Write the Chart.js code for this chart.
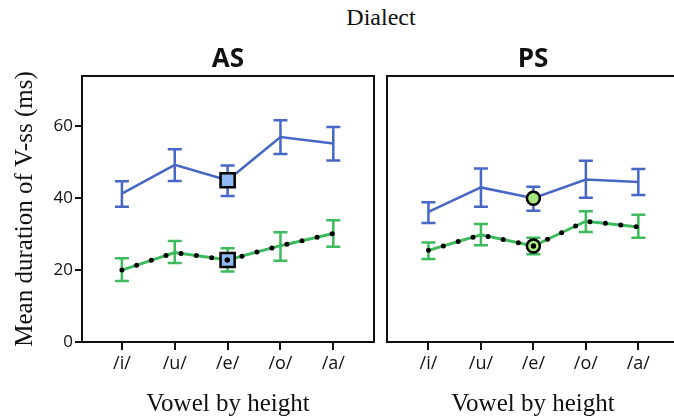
<!DOCTYPE html>
<html>
<head>
<meta charset="utf-8">
<script src="https://cdn.jsdelivr.net/npm/chart.js@4/dist/chart.umd.min.js"></script>
<style>
  html, body { margin: 0; padding: 0; background: #fff; }
  body { width: 674px; height: 420px; overflow: hidden; position: relative; }
  canvas { position: absolute; top: 0; }
  #asChart { left: 0; }
  #psChart { left: 380px; }
  #dialect {
    position: absolute; top: 4px; left: 281px; width: 200px; text-align: center;
    font-family: "Liberation Serif", "DejaVu Serif", serif; font-size: 24px; color: #111;
  }
</style>
</head>
<body>
<div id="dialect">Dialect</div>
<canvas id="asChart" width="380" height="420"></canvas>
<canvas id="psChart" width="330" height="420"></canvas>
<script>
// vowels on the x axis
const vowels = ['/i/', '/u/', '/e/', '/o/', '/a/'];
const yTicks = [0, 20, 40, 60];

// AS panel
const asBlue = [41.3, 49.3, 45.0, 57.0, 55.2];
const asBlueLow = [37.6, 44.8, 40.6, 52.3, 50.5];
const asBlueHigh = [44.7, 53.6, 49.1, 61.7, 59.8];
const asGreen = [20.0, 24.9, 22.8, 26.8, 30.2];
const asGreenLow = [17.0, 22.0, 19.6, 22.6, 26.5];
const asGreenHigh = [23.3, 28.1, 26.1, 30.5, 33.9];

// PS panel
const psBlue = [36.2, 43.0, 40.0, 45.2, 44.5];
const psBlueLow = [33.1, 37.6, 36.5, 40.1, 40.9];
const psBlueHigh = [38.9, 48.3, 43.2, 50.4, 48.1];
const psGreen = [25.5, 29.8, 26.7, 33.6, 32.0];
const psGreenLow = [23.1, 26.9, 24.4, 30.6, 29.0];
const psGreenHigh = [27.7, 32.8, 29.0, 36.4, 35.4];

const BLUE = '#4767c6';
const GREEN = '#3dba5c';
const sansFont = '"Open Sans", "Noto Sans", sans-serif';
const serifFont = '"Liberation Serif", "DejaVu Serif", serif';

const toPoints = (vals) => vals.map((v, i) => ({ x: i, y: v }));

// error bars, drawn under the lines
const errorBars = {
  id: 'errorBars',
  beforeDatasetsDraw(chart) {
    const ctx = chart.ctx;
    const xs = chart.scales.x, ys = chart.scales.y;
    chart.data.datasets.forEach(ds => {
      if (!ds.errLow) return;
      ctx.save();
      ctx.strokeStyle = ds.borderColor;
      ctx.lineWidth = 2.5;
      ds.errLow.forEach((lo, i) => {
        const x = xs.getPixelForValue(i);
        const y1 = ys.getPixelForValue(lo);
        const y2 = ys.getPixelForValue(ds.errHigh[i]);
        ctx.beginPath();
        ctx.moveTo(x, y1); ctx.lineTo(x, y2);
        ctx.moveTo(x - 7, y1); ctx.lineTo(x + 7, y1);
        ctx.moveTo(x - 7, y2); ctx.lineTo(x + 7, y2);
        ctx.stroke();
      });
      ctx.restore();
    });
  }
};

// frame round the plot area, panel name and x title centred on the panel
const frame = {
  id: 'frame',
  afterDraw(chart, args, opts) {
    const { left, top, right, bottom } = chart.chartArea;
    const ctx = chart.ctx;
    ctx.save();
    ctx.strokeStyle = '#111';
    ctx.lineWidth = 2;
    ctx.strokeRect(left, top, right - left, bottom - top);
    ctx.fillStyle = '#111';
    ctx.textAlign = 'center';
    ctx.textBaseline = 'middle';
    ctx.font = 'bold 26px ' + sansFont;
    ctx.fillText(opts.text, opts.titleX, 60);
    ctx.font = '25px ' + serifFont;
    ctx.fillText('Vowel by height', opts.titleX, 404);
    ctx.restore();
  }
};

function makePanel(id, title, blue, blueLow, blueHigh, green, greenLow, greenHigh, marker, fill, xMin, xMax, titleX, pad, showY) {
  const markerRadius = marker === 'rect' ? 10 : 6.5;
  const marked = vowels.map((v, i) => i === 2 ? markerRadius : 0);
  return new Chart(document.getElementById(id), {
    type: 'line',
    data: {
      datasets: [
        {
          data: toPoints(green), borderColor: 'rgba(0,0,0,0)', borderWidth: 0,
          pointRadius: vowels.map((v, i) => i === 2 ? 2.5 : 0),
          pointBackgroundColor: '#000', pointBorderWidth: 0, order: 0
        },
        {
          data: toPoints(green), borderColor: '#000', borderWidth: 5,
          borderDash: [0, 15.5], borderCapStyle: 'round',
          pointRadius: 0, order: 1
        },
        {
          data: toPoints(green), errLow: greenLow, errHigh: greenHigh,
          borderColor: GREEN, borderWidth: 3,
          pointStyle: marker, pointRadius: marked,
          pointBackgroundColor: fill, pointBorderColor: '#000', pointBorderWidth: 2.5, order: 2
        },
        {
          data: toPoints(blue), errLow: blueLow, errHigh: blueHigh,
          borderColor: BLUE, borderWidth: 2.5,
          pointStyle: marker, pointRadius: marked,
          pointBackgroundColor: fill, pointBorderColor: '#000', pointBorderWidth: 2.5, order: 3
        }
      ]
    },
    options: {
      responsive: false,
      animation: false,
      events: [],
      layout: { padding: pad },
      plugins: {
        legend: { display: false },
        tooltip: { enabled: false },
        title: { display: false },
        frame: { text: title, titleX: titleX }
      },
      scales: {
        x: {
          type: 'linear', min: xMin, max: xMax,
          afterFit(scale) { scale.height = 78; scale.paddingLeft = 0; scale.paddingRight = 0; },
          afterBuildTicks(scale) { scale.ticks = vowels.map((v, i) => ({ value: i })); },
          ticks: {
            callback: (v) => vowels[v], color: '#111', padding: 3,
            font: { family: sansFont, size: 18 }, maxRotation: 0
          },
          grid: { drawOnChartArea: false, drawTicks: true, tickLength: 8, color: '#111', lineWidth: 2 },
          border: { display: false },
          title: { display: false }
        },
        y: {
          display: showY, min: 0, max: 74,
          afterFit(scale) {
            scale.width = showY ? 82 : 0;
            scale.paddingTop = 0; scale.paddingBottom = 0;
          },
          afterBuildTicks(scale) { scale.ticks = yTicks.map(v => ({ value: v })); },
          ticks: { color: '#111', padding: 2, font: { family: sansFont, size: 17 } },
          grid: { drawOnChartArea: false, drawTicks: true, tickLength: 7, color: '#111', lineWidth: 2 },
          border: { display: false },
          title: {
            display: true, text: 'Mean duration of V-ss (ms)', color: '#111',
            font: { family: serifFont, size: 25 }, padding: { top: 10, bottom: 0 }
          }
        }
      }
    },
    plugins: [errorBars, frame]
  });
}

makePanel('asChart', 'AS', asBlue, asBlueLow, asBlueHigh, asGreen, asGreenLow, asGreenHigh,
  'rect', '#8fb9f2', -0.755, 4.77, 228, { left: 0, right: 6, top: 76, bottom: 0 }, true);
makePanel('psChart', 'PS', psBlue, psBlueLow, psBlueHigh, psGreen, psGreenLow, psGreenHigh,
  'circle', '#a6e67c', -0.79, 5.156, 153, { left: 7, right: 11, top: 76, bottom: 0 }, false);
</script>
</body>
</html>
